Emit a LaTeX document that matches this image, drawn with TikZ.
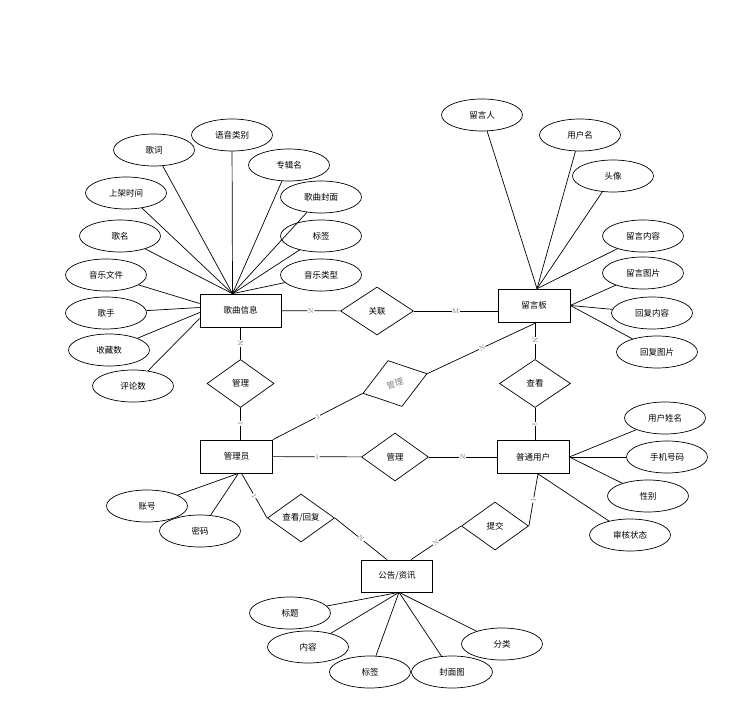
\documentclass[tikz,border=0pt]{standalone}
\usepackage{fontspec}
\newfontfamily\cjk{Noto Sans CJK SC}
\usetikzlibrary{shapes.geometric}

\begin{document}
\begin{tikzpicture}[x = 1pt, y = 1pt, line width = 0.7pt,
	entity/.style = {draw, rectangle, minimum width = 72pt, minimum height = 33pt, font = \cjk\fontsize{8.5}{10}\selectfont},
	rel/.style = {draw, diamond, minimum width = 67pt, minimum height = 48pt, inner sep = 0pt, font = \cjk\fontsize{8.5}{10}\selectfont},
	attr/.style = {draw, ellipse, minimum width = 81pt, minimum height = 32pt, inner sep = 1pt, font = \cjk\fontsize{8.5}{10}\selectfont},
	card/.style = {fill = white, inner sep = 0.5pt, text = gray!90!black, sloped, font = \fontsize{7}{7}\selectfont}]

	\useasboundingbox (0, 0) rectangle (755, -719);

	% Entities

	\node [entity, minimum width = 81pt] (gq) at (240.5, -310.5) {歌曲信息};
	\node [entity] (lyb) at (534, -305.5) {留言板};
	\node [entity] (gly) at (236.5, -456.5) {管理员};
	\node [entity] (ptyh) at (533, -457) {普通用户};
	\node [entity, minimum width = 71pt, minimum height = 32pt] (gg) at (397, -576) {公告/资讯};

	% Relations

	\node [rel, minimum width = 73pt] (gl) at (377, -311) {关联};
	\node [rel] (glgq) at (240.5, -383.5) {管理};
	\node [rel, rotate = 17, text = gray] (glly) at (395, -383.5) {管理};
	\node [rel, minimum width = 71pt] (ck) at (535, -383.5) {查看};
	\node [rel] (glyh) at (395, -457) {管理};
	\node [rel] (ckhf) at (301, -518) {查看/回复};
	\node [rel] (tj) at (495, -526) {提交};

	% Attributes

	\foreach \n/\x/\y/\t in {gc/154/150/歌词, yylb/232/135/语音类别, zjm/289/165/专辑名, gqfm/321/197/歌曲封面,
			sjsj/126/193/上架时间, gm/120/236/歌名, bq1/321/236/标签, yylx/321/275/音乐类型,
			yywj/106/275/音乐文件, gs/106/313/歌手, scs/109/350/收藏数, pls/133/386/评论数,
			lyr/482/115/留言人, yhm/580/135/用户名, tx/613/176/头像, lynr/643/236/留言内容,
			lytp/643/273/留言图片, hfnr/652/313/回复内容, hftp/657/352/回复图片,
			yhxm/665/418/用户姓名, sjhm/667/457/手机号码, xb/648/496/性别, shzt/630/535/审核状态,
			zh/147/506/账号, mm/200/531/密码,
			bt/290/613/标题, nr/308/647/内容, bq2/370/672/标签, fmt/452/672/封面图, fl/502/644/分类}
		\node [attr] (\n) at (\x, -\y) {\t};

	% Attribute lines

	\foreach \n in {gc, yylb, zjm, gqfm, bq1, yylx, sjsj, gm}
		\draw (\n) -- ([xshift = -8pt]gq.north);
	\foreach \n/\dy in {yywj/7, gs/3, scs/-2, pls/-8}
		\draw (\n) -- ([yshift = \dy pt]gq.west);

	\foreach \n in {lyr, yhm, tx, lynr}
		\draw (\n) -- ([xshift = 3pt]lyb.north);
	\foreach \n in {lytp, hfnr, hftp}
		\draw (\n) -- (lyb.east);

	\foreach \n in {yhxm, sjhm, xb}
		\draw (\n) -- (ptyh.east);
	\draw (shzt) -- ([xshift = 5pt]ptyh.south);

	\foreach \n in {zh, mm}
		\draw (\n) -- ([xshift = 2pt]gly.south);

	\foreach \n in {bt, nr, bq2, fmt, fl}
		\draw (\n) -- ([xshift = 2pt]gg.south);

	% Relation lines

	\draw (gq) -- node [card] {N} (gl);
	\draw (gl.east) -- node [card] {M} (gl.east -| lyb.west);
	\draw (gq.south) -- node [card] {N} (glgq.north);
	\draw (glgq.south) -- node [card] {1} (glgq.south |- gly.north);
	\draw (gly.north east) -- node [card] {1} (glly.west);
	\draw (glly.east) -- node [card] {N} ([xshift = 3pt]lyb.south);
	\draw (ck.north |- lyb.south) -- node [card] {N} (ck.north);
	\draw (ck.south) -- node [card] {1} (ck.south |- ptyh.north);
	\draw (gly) -- node [card] {1} (glyh);
	\draw (glyh) -- node [card] {N} (ptyh);
	\draw ([xshift = 5pt]gly.south) -- node [card] {1} (ckhf.west);
	\draw (ckhf.east) -- node [card] {N} ([xshift = -10pt]gg.north);
	\draw (tj.west) -- node [card] {N} ([xshift = 14pt]gg.north);
	\draw (tj.east) -- node [card] {1} ([xshift = 5pt]ptyh.south);

\end{tikzpicture}
\end{document}
